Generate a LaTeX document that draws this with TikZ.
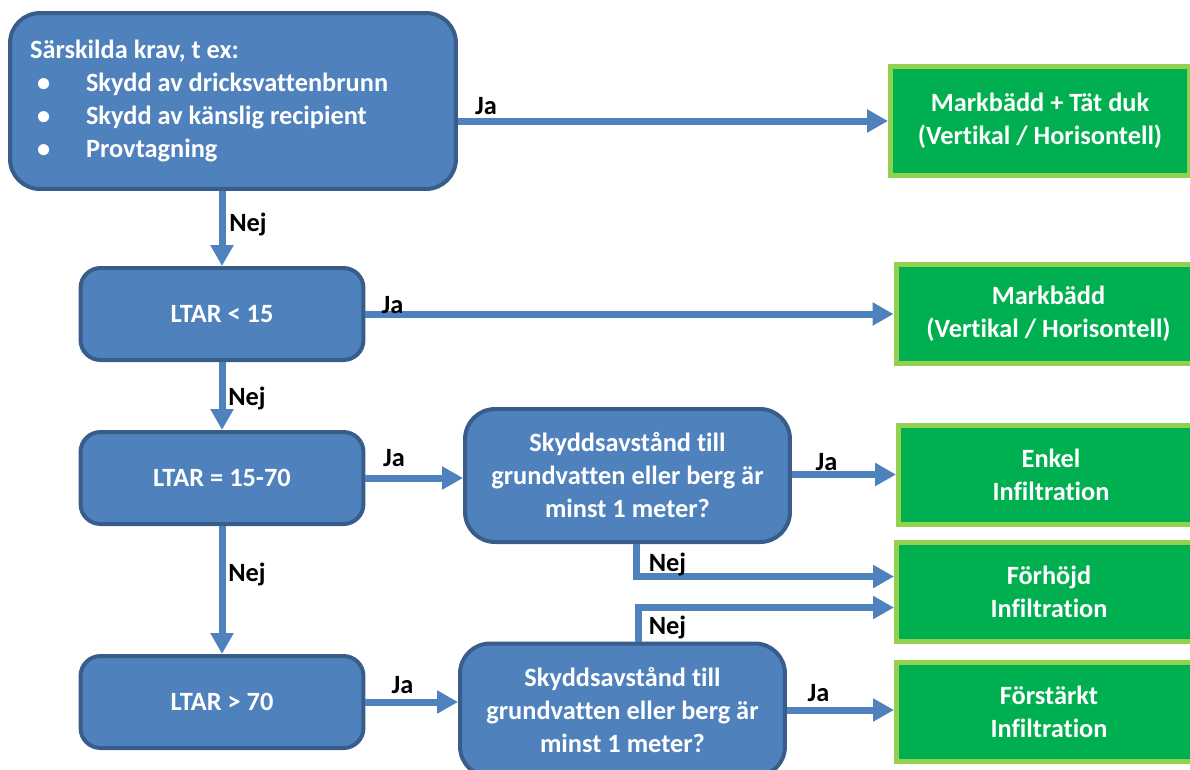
\documentclass[tikz,border=0pt]{standalone}
\usepackage{fontspec}
\setmainfont{Carlito}[Ligatures=NoCommon]
\usetikzlibrary{positioning, arrows.meta, calc}

\definecolor{boxblue}{HTML}{4F81BD}
\definecolor{boxedge}{HTML}{385D8A}
\definecolor{resgreen}{HTML}{00B050}
\definecolor{resedge}{HTML}{92D050}

\tikzset{
    boxfont/.style={font=\fontsize{15}{18.8}\selectfont\bfseries},
    question/.style={boxfont, draw=boxedge, fill=boxblue, line width=0.08cm,
        rounded corners=0.4cm, text=white, align=center, inner sep=0pt},
    result/.style={boxfont, draw=resedge, fill=resgreen, line width=0.1cm,
        text=white, align=center, inner sep=0pt,
        minimum width=6.1cm, minimum height=1.98cm},
    flow/.style={draw=boxblue, line width=0.14cm,
        -{Triangle[length=0.42cm, width=0.44cm]}},
    answer/.style={boxfont, text=black, inner sep=0pt}
}

\begin{document}
\begin{tikzpicture}[x=0.02cm, y=-0.02cm]
    \useasboundingbox (0,0) rectangle (1190,769);
    \clip (0,0) rectangle (1190,769);
    % Questions
    \node[question, align=flush left, text width=8.12cm, inner xsep=0.4cm,
        minimum height=3.52cm, rounded corners=0.6cm] (krav) at (233,101)
        {Särskilda krav, t ex:\\
         \makebox[1.12cm][l]{\hspace{0.14cm}\textbullet}Skydd av dricksvattenbrunn\\
         \makebox[1.12cm][l]{\hspace{0.14cm}\textbullet}Skydd av känslig recipient\\
         \makebox[1.12cm][l]{\hspace{0.14cm}\textbullet}Provtagning};
    \node[question, minimum width=5.66cm, minimum height=1.84cm] (lt15) at (222,314) {LTAR < 15};
    \node[question, minimum width=5.66cm, minimum height=1.84cm] (lt1570) at (222,478) {LTAR = 15-70};
    \node[question, minimum width=5.66cm, minimum height=1.84cm] (lt70) at (222,702) {LTAR > 70};
    \node[question, minimum width=6.5cm, minimum height=2.66cm, rounded corners=0.6cm] (avst1) at (627.5,475.5)
        {Skyddsavstånd till\\grundvatten eller berg är\\minst 1 meter?};
    \node[question, minimum width=6.5cm, minimum height=2.66cm, rounded corners=0.6cm] (avst2) at (622.5,710)
        {Skyddsavstånd till\\grundvatten eller berg är\\minst 1 meter?};
    % Results
    \node[result, minimum width=5.98cm, minimum height=2.18cm] (tat) at (1040,121)
        {Markbädd + Tät duk\\(Vertikal / Horisontell)};
    \node[result] (mark) at (1048.5,314) {Markbädd\\(Vertikal / Horisontell)};
    \node[result] (enkel) at (1051,474.5) {Enkel\\Infiltration};
    \node[result] (hojd) at (1049,592) {Förhöjd\\Infiltration};
    \node[result] (forst) at (1049,712) {Förstärkt\\Infiltration};
    % Arrows
    \draw[flow] (tat.west -| krav.east) -- (tat.west);
    \draw[flow] (krav.south -| lt15.north) -- (lt15.north);
    \draw[flow] (lt15.east) -- (lt15.east -| mark.west);
    \draw[flow] (lt15.south) -- (lt1570.north);
    \draw[flow] (lt1570.east) -- (lt1570.east -| avst1.west);
    \draw[flow] (lt1570.south) -- (lt70.north);
    \draw[flow] (lt70.east) -- (lt70.east -| avst2.west);
    \draw[flow] (enkel.west -| avst1.east) -- (enkel.west);
    \draw[flow] ([xshift=0.17cm]avst1.south) |- ([yshift=0.31cm]hojd.west);
    \draw[flow] ([xshift=0.31cm]avst2.north) |- ([yshift=-0.31cm]hojd.west);
    \draw[flow] (avst2.east) -- (avst2.east -| forst.west);
    % Answers
    \node[answer] (ja1) at (486,106) {Ja};
    \node[answer] (nej1) at (248,224) {Nej};
    \node[answer] (ja2) at (392.5,305) {Ja};
    \node[answer] (nej2) at (247,398) {Nej};
    \node[answer] (ja3) at (394,458) {Ja};
    \node[answer] (nej3) at (247,574) {Nej};
    \node[answer] (ja4) at (402.5,685) {Ja};
    \node[answer] (ja5) at (826.5,462) {Ja};
    \node[answer] (nej4) at (667.5,564) {Nej};
    \node[answer] (nej5) at (667.5,627) {Nej};
    \node[answer] (ja6) at (818.5,693) {Ja};
\end{tikzpicture}
\end{document}
